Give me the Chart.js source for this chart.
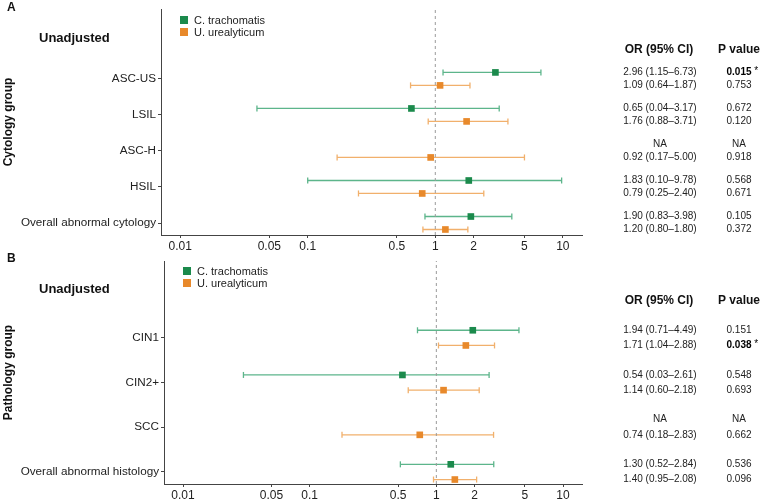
<!DOCTYPE html>
<html>
<head>
<meta charset="utf-8">
<script src="https://cdn.jsdelivr.net/npm/chart.js@4/dist/chart.umd.min.js"></script>
<style>
html,body{margin:0;padding:0;background:#fff;}
canvas{display:block;}
</style>
</head>
<body>
<canvas id="chartA" width="767" height="251"></canvas>
<canvas id="chartB" width="767" height="251"></canvas>
<script>
// ---------- data ----------
const xTicks = [0.01, 0.05, 0.1, 0.5, 1, 2, 5, 10];
const seriesNames = ['C. trachomatis', 'U. urealyticum'];

const cytoCategories = ['ASC-US', 'LSIL', 'ASC-H', 'HSIL', 'Overall abnormal cytology'];
const cytoCtOR = [2.96, 0.65, null, 1.83, 1.90];
const cytoCtLo = [1.15, 0.04, null, 0.10, 0.83];
const cytoCtHi = [6.73, 3.17, null, 9.78, 3.98];
const cytoCtP  = [0.015, 0.672, null, 0.568, 0.105];
const cytoUuOR = [1.09, 1.76, 0.92, 0.79, 1.20];
const cytoUuLo = [0.64, 0.88, 0.17, 0.25, 0.80];
const cytoUuHi = [1.87, 3.71, 5.00, 2.40, 1.80];
const cytoUuP  = [0.753, 0.120, 0.918, 0.671, 0.372];

const pathoCategories = ['CIN1', 'CIN2+', 'SCC', 'Overall abnormal histology'];
const pathoCtOR = [1.94, 0.54, null, 1.30];
const pathoCtLo = [0.71, 0.03, null, 0.52];
const pathoCtHi = [4.49, 2.61, null, 2.84];
const pathoCtP  = [0.151, 0.548, null, 0.536];
const pathoUuOR = [1.71, 1.14, 0.74, 1.40];
const pathoUuLo = [1.04, 0.60, 0.18, 0.95];
const pathoUuHi = [2.88, 2.18, 2.83, 2.08];
const pathoUuP  = [0.038, 0.693, 0.662, 0.096];

// ---------- style ----------
const FONT = '"Liberation Sans", Arial, Helvetica, sans-serif';
Chart.defaults.font.family = FONT;
Chart.defaults.color = '#222';
const squareColors = ['#1b8a4c', '#e8892b'];
const barColors = ['#5db58b', '#f1b06c'];
const xMin = Math.pow(10, -2.15), xMax = Math.pow(10, 1.15);

function fmtOR(or, lo, hi) {
  return or.toFixed(2) + ' (' + lo.toFixed(2) + '\u2013' + hi.toFixed(2) + ')';
}
function fmtP(p) { return p.toFixed(3); }

function buildPanel(id, p) {
  const n = p.categories.length;
  const series = [
    {or: p.ctOR, lo: p.ctLo, hi: p.ctHi, pv: p.ctP, off: p.off},
    {or: p.uuOR, lo: p.uuLo, hi: p.uuHi, pv: p.uuP, off: -p.off}
  ];
  const squares = [], dashed = [], bars = [];
  series.forEach((s, si) => {
    const pts = [];
    s.or.forEach((v, i) => {
      if (v === null) return;
      const y = (n - i) + s.off;
      pts.push({x: v, y: y});
      bars.push({
        data: [{x: s.lo[i], y: y}, {x: s.hi[i], y: y}],
        showLine: true,
        borderColor: barColors[si],
        borderWidth: 1.3,
        pointStyle: 'line',
        rotation: 90,
        pointRadius: 3,
        pointBorderColor: barColors[si],
        pointBorderWidth: 1.3,
        pointBackgroundColor: barColors[si]
      });
    });
    squares.push({
      data: pts,
      pointStyle: 'rect',
      pointRadius: 4.7,
      backgroundColor: squareColors[si],
      pointBackgroundColor: squareColors[si],
      borderWidth: 0,
      pointBorderWidth: 0
    });
  });
  dashed.push({
    data: [{x: 1, y: p.yMin}, {x: 1, y: p.yMax}],
    showLine: true,
    borderColor: '#9a9a9a',
    borderWidth: 1,
    borderDash: [3, 3],
    pointRadius: 0
  });

  const annot = {
    id: 'annot' + id,
    afterDraw(chart) {
      const ctx = chart.ctx;
      const ys = chart.scales.y;
      const ca = chart.chartArea;
      ctx.save();
      ctx.fillStyle = '#111';
      ctx.textBaseline = 'middle';
      // panel letter
      ctx.font = 'bold 12px ' + FONT;
      ctx.textAlign = 'left';
      ctx.fillText(p.letter, 7, 8);
      // Unadjusted
      ctx.font = 'bold 13px ' + FONT;
      ctx.fillText('Unadjusted', 39, 38);
      // y title
      ctx.save();
      ctx.translate(9, (ca.top + ca.bottom) / 2);
      ctx.rotate(-Math.PI / 2);
      ctx.textAlign = 'center';
      ctx.font = 'bold 12px ' + FONT;
      ctx.fillText(p.yTitle, 0, 0);
      ctx.restore();
      // legend
      ctx.font = '11px ' + FONT;
      ctx.textAlign = 'left';
      seriesNames.forEach((nm, si) => {
        const cy = 20 + si * 12;
        ctx.fillStyle = squareColors[si];
        ctx.fillRect(ca.left + 19, cy - 4, 8, 8);
        ctx.fillStyle = '#222';
        ctx.fillText(nm, ca.left + 33, cy + 0.5);
      });
      // table
      const orX = 660, pX = 739;
      ctx.fillStyle = '#111';
      ctx.font = 'bold 12px ' + FONT;
      ctx.textAlign = 'center';
      ctx.fillText('OR (95% CI)', 659, 50);
      ctx.fillText('P value', pX, 50);
      series.forEach((s) => {
        s.or.forEach((v, i) => {
          const y = ys.getPixelForValue((n - i) + s.off);
          ctx.fillStyle = '#222';
          ctx.textAlign = 'center';
          ctx.font = '10px ' + FONT;
          if (v === null) {
            ctx.fillText('NA', orX, y);
            ctx.fillText('NA', pX, y);
            return;
          }
          ctx.fillText(fmtOR(v, s.lo[i], s.hi[i]), orX, y);
          const pt = fmtP(s.pv[i]);
          if (s.pv[i] < 0.05) {
            ctx.font = 'bold 10px ' + FONT;
            ctx.fillStyle = '#000';
            ctx.fillText(pt, pX, y);
            const w = ctx.measureText(pt).width;
            ctx.font = '10px ' + FONT;
            ctx.textAlign = 'left';
            ctx.fillText(' *', pX + w / 2, y - 1);
          } else {
            ctx.fillText(pt, pX, y);
          }
        });
      });
      ctx.restore();
    }
  };

  return new Chart(document.getElementById(id), {
    type: 'scatter',
    data: {datasets: squares.concat(dashed, bars)},
    options: {
      responsive: false,
      animation: false,
      events: [],
      layout: {padding: {left: 0, right: 185, top: p.top, bottom: 0}},
      plugins: {legend: {display: false}, tooltip: {enabled: false}},
      scales: {
        x: {
          type: 'logarithmic',
          min: xMin,
          max: xMax,
          afterBuildTicks: (s) => { s.ticks = xTicks.map(v => ({value: v})); },
          afterFit: (s) => { s.height = p.xHeight; },
          ticks: {
            callback: (v) => String(v),
            autoSkip: false, maxRotation: 0, minRotation: 0,
            padding: 1, color: '#222', font: {size: 12}
          },
          grid: {drawOnChartArea: false, drawTicks: true, tickLength: 3, color: '#444'},
          border: {display: true, color: '#444', width: 1}
        },
        y: {
          type: 'linear',
          min: p.yMin,
          max: p.yMax,
          afterBuildTicks: (s) => { s.ticks = p.categories.map((c, i) => ({value: n - i})); },
          afterFit: (s) => { s.width = p.yWidth; },
          ticks: {
            callback: (v) => p.categories[n - Math.round(v)],
            autoSkip: false, padding: 2, color: '#222', font: {size: 11.7}
          },
          grid: {drawOnChartArea: false, drawTicks: true, tickLength: 3, color: '#444'},
          border: {display: true, color: '#444', width: 1}
        }
      }
    },
    plugins: [annot]
  });
}

buildPanel('chartA', {
  letter: 'A', yTitle: 'Cytology group', categories: cytoCategories,
  ctOR: cytoCtOR, ctLo: cytoCtLo, ctHi: cytoCtHi, ctP: cytoCtP,
  uuOR: cytoUuOR, uuLo: cytoUuLo, uuHi: cytoUuHi, uuP: cytoUuP,
  off: 0.18, yMin: 0.667, yMax: 6.94, top: 9, xHeight: 16, yWidth: 161
});
buildPanel('chartB', {
  letter: 'B', yTitle: 'Pathology group', categories: pathoCategories,
  ctOR: pathoCtOR, ctLo: pathoCtLo, ctHi: pathoCtHi, ctP: pathoCtP,
  uuOR: pathoUuOR, uuLo: pathoUuLo, uuHi: pathoUuHi, uuP: pathoUuP,
  off: 0.17, yMin: 0.73, yMax: 5.72, top: 10, xHeight: 18, yWidth: 164
});
</script>
</body>
</html>
